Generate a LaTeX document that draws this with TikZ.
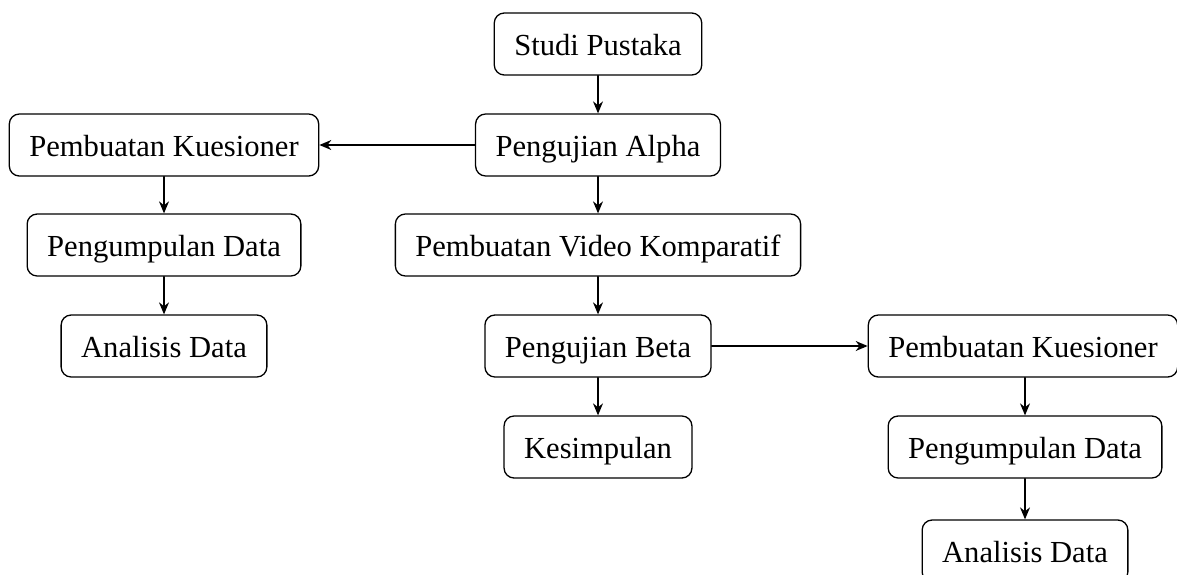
\documentclass[tikz,border=0pt]{standalone}
\usepackage{fontspec}
\setmainfont{Liberation Serif}
\usetikzlibrary{arrows.meta}
\begin{document}
\begin{tikzpicture}[x=0.5pt,y=-0.5pt,>={Stealth[length=6pt,width=5pt]}, line join=round, line cap=round,
	box/.style={draw, line width=0.65pt, rounded corners=5pt, minimum height=31pt, inner xsep=10pt, text height=12.5pt, text depth=1.5pt, font=\fontsize{15.3}{18}\selectfont},
	arr/.style={->, line width=0.65pt}]
	\useasboundingbox (0,0) rectangle (1177,574);
	% cot giua
	\node[box] (studi) at (598,44) {Studi Pustaka};
	\node[box] (alpha) at (598,145) {Pengujian Alpha};
	\node[box] (video) at (598,245) {Pembuatan Video Komparatif};
	\node[box] (beta) at (598,346) {Pengujian Beta};
	\node[box] (simpul) at (598,447) {Kesimpulan};
	% cot trai
	\node[box] (kuesA) at (164,145) {Pembuatan Kuesioner};
	\node[box] (kumpulA) at (164,245) {Pengumpulan Data};
	\node[box] (analisisA) at (164,346) {Analisis Data};
	% cot phai
	\node[box] (kuesB) at (1023,346) {Pembuatan Kuesioner};
	\node[box] (kumpulB) at (1025,447) {Pengumpulan Data};
	\node[box] (analisisB) at (1025,551) {Analisis Data};
	\draw[arr] (studi)--(alpha);
	\draw[arr] (alpha)--(video);
	\draw[arr] (video)--(beta);
	\draw[arr] (beta)--(simpul);
	\draw[arr] (alpha)--(kuesA);
	\draw[arr] (kuesA)--(kumpulA);
	\draw[arr] (kumpulA)--(analisisA);
	\draw[arr] (beta)--(kuesB);
	\draw[arr] (kuesB.south -| kumpulB)--(kumpulB);
	\draw[arr] (kumpulB)--(analisisB);
\end{tikzpicture}
\end{document}
